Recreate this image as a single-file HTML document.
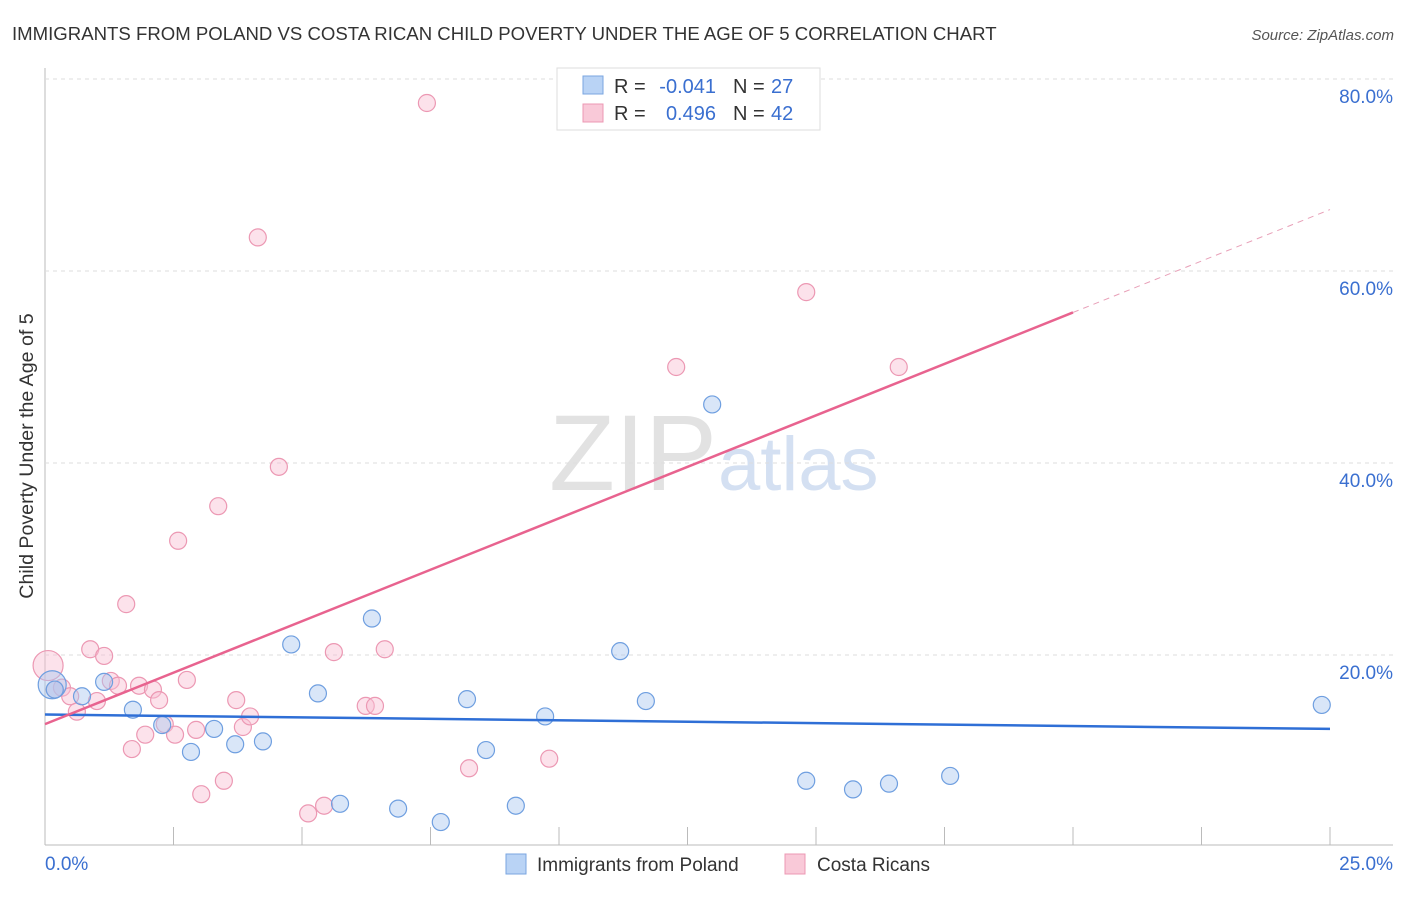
<!DOCTYPE html>
<html><head><meta charset="utf-8"><style>
body{margin:0;background:#fff;font-family:"Liberation Sans",sans-serif}
svg text{font-family:"Liberation Sans",sans-serif}
</style></head><body>
<svg id="c" width="1406" height="892">
<text x="12" y="40" font-size="18.6" fill="#333">IMMIGRANTS FROM POLAND VS COSTA RICAN CHILD POVERTY UNDER THE AGE OF 5 CORRELATION CHART</text>
<text x="1394" y="40" font-size="15" fill="#555" font-style="italic" text-anchor="end">Source: ZipAtlas.com</text>
<text x="33" y="456" font-size="19.6" fill="#333" text-anchor="middle" transform="rotate(-90 33 456)">Child Poverty Under the Age of 5</text>
<text x="717" y="490" font-size="108" fill="#e2e2e2" text-anchor="end" font-family="Liberation Serif">ZIP</text>
<text x="718" y="490" font-size="76" fill="#d4e0f2">atlas</text>
<g id="grid"></g><g id="pts"></g><g id="lines"></g>
<g>
<rect x="557" y="68" width="263" height="62" fill="#fff" stroke="#ddd"/>
<rect x="583" y="76" width="20" height="18" fill="#b9d3f5" stroke="#7aa6e0"/>
<text x="614" y="93" font-size="20" fill="#333">R =</text>
<text x="716" y="93" font-size="20" fill="#3a6fd0" text-anchor="end">-0.041</text>
<text x="733" y="93" font-size="20" fill="#333">N =</text>
<text x="771" y="93" font-size="20" fill="#3a6fd0">27</text>
<rect x="583" y="104" width="20" height="18" fill="#f9c9d8" stroke="#ec98b3"/>
<text x="614" y="120" font-size="20" fill="#333">R =</text>
<text x="716" y="120" font-size="20" fill="#3a6fd0" text-anchor="end">0.496</text>
<text x="733" y="120" font-size="20" fill="#333">N =</text>
<text x="771" y="120" font-size="20" fill="#3a6fd0">42</text>
</g>
<g>
<rect x="506" y="854" width="20" height="20" fill="#b9d3f5" stroke="#7aa6e0"/>
<text x="537" y="871" font-size="19" fill="#333">Immigrants from Poland</text>
<rect x="785" y="854" width="20" height="20" fill="#f9c9d8" stroke="#ec98b3"/>
<text x="817" y="871" font-size="19" fill="#333">Costa Ricans</text>
</g>
</svg>
<script>
const yTicks=[20,40,60,80];
const blueX=[0.14,0.19,0.72,1.15,1.71,2.28,2.84,3.29,3.70,4.24,4.79,5.31,5.74,6.36,6.87,7.70,8.21,8.58,9.16,9.73,11.19,11.69,12.98,14.81,15.72,16.42,17.61,24.84];
const blueY=[16.9,16.4,15.7,17.2,14.3,12.7,9.9,12.3,10.7,11.0,21.1,16.0,4.5,23.8,4.0,2.6,15.4,10.1,4.3,13.6,20.4,15.2,46.1,6.9,6.0,6.6,7.4,14.8];
const pinkX=[0.06,0.19,0.33,0.49,0.62,0.88,1.01,1.15,1.28,1.42,1.58,1.69,1.83,1.95,2.10,2.22,2.33,2.53,2.59,2.76,2.94,3.04,3.37,3.48,3.72,3.85,3.99,4.14,4.55,5.12,5.43,5.62,6.24,6.42,6.61,7.43,8.25,9.81,12.28,14.81,16.61];
const pinkY=[18.9,16.4,16.6,15.7,14.1,20.6,15.2,19.9,17.3,16.8,25.3,10.2,16.8,11.7,16.4,15.3,12.8,11.7,31.9,17.4,12.2,5.5,35.5,6.9,15.3,12.5,13.6,63.5,39.6,3.5,4.3,20.3,14.7,14.7,20.6,77.5,8.2,9.2,50.0,57.8,50.0];
const blueFit=[13.8,12.3], pinkFit=[12.8,66.4];
const X=v=>45+v*51.4, Y=v=>847-v*9.6;
const ns='http://www.w3.org/2000/svg';
function mk(t,a,p){const e=document.createElementNS(ns,t);for(const k in a)e.setAttribute(k,a[k]);p.appendChild(e);return e;}
const g=document.getElementById('grid');
mk('line',{x1:45,y1:68,x2:45,y2:845,stroke:'#bbb'},g);
mk('line',{x1:45,y1:845,x2:1393,y2:845,stroke:'#bbb'},g);
for(let i=1;i<=10;i++){mk('line',{x1:X(i*2.5),y1:827,x2:X(i*2.5),y2:845,stroke:'#bbb'},g);}
yTicks.forEach(v=>{
const l=mk('line',{x1:45,y1:Y(v),x2:1393,y2:Y(v),stroke:'#ddd','stroke-dasharray':'4,4'},g);


const t=mk('text',{x:1393,y:Y(v)+24,'font-size':19,fill:'#3a6fd0','text-anchor':'end'},g);t.textContent=v.toFixed(1)+'%';


});
const x0=mk('text',{x:45,y:870,'font-size':19,fill:'#3a6fd0'},g);x0.textContent='0.0%';


const x1=mk('text',{x:1393,y:870,'font-size':19,fill:'#3a6fd0','text-anchor':'end'},g);x1.textContent='25.0%';


const p=document.getElementById('pts');
pinkX.forEach((v,i)=>{const c=mk('circle',{cx:X(v),cy:Y(pinkY[i]),r:i==0?15:8.5,fill:'rgba(249,190,210,0.45)',stroke:'#ec98b3','stroke-width':1.2},p);

});
blueX.forEach((v,i)=>{const c=mk('circle',{cx:X(v),cy:Y(blueY[i]),r:i==0?14:8.5,fill:'rgba(170,200,240,0.45)',stroke:'#6f9fe0','stroke-width':1.2},p);

});
const L=document.getElementById('lines');
const bl=mk('line',{x1:X(0),y1:Y(blueFit[0]),x2:X(25),y2:Y(blueFit[1]),stroke:'#2f6fd6','stroke-width':2.5},L);


const pe=v=>pinkFit[0]+(pinkFit[1]-pinkFit[0])*v/25;
const pl=mk('line',{x1:X(0),y1:Y(pe(0)),x2:X(20),y2:Y(pe(20)),stroke:'#e8638f','stroke-width':2.5},L);


const pd=mk('line',{x1:X(20),y1:Y(pe(20)),x2:X(25),y2:Y(pe(25)),stroke:'#e8a0b8','stroke-width':1,'stroke-dasharray':'6,5'},L);


</script>
</body></html>
